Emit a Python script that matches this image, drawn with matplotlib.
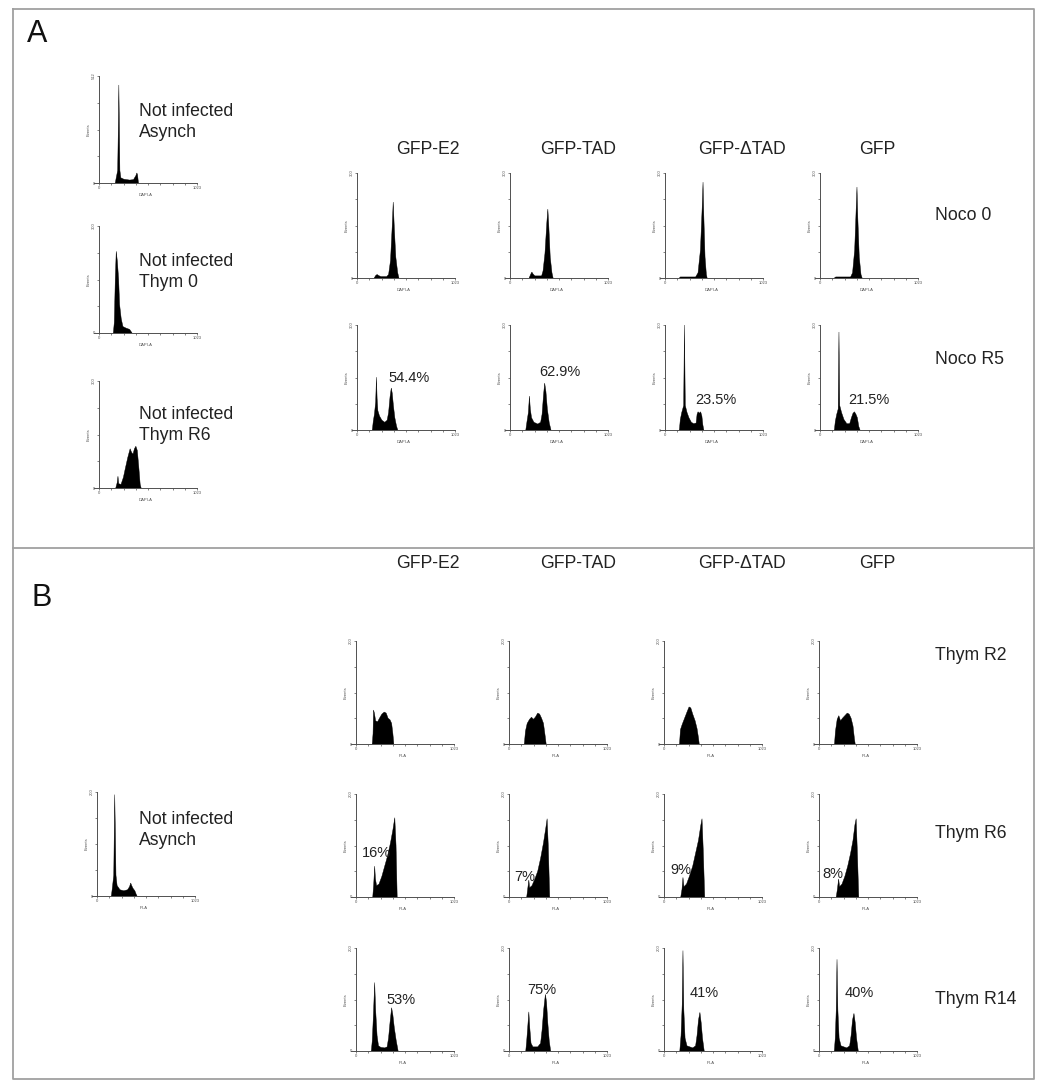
import matplotlib
matplotlib.use('Agg')
import matplotlib.pyplot as plt
from matplotlib.lines import Line2D

plt.rcParams['font.family'] = ['Liberation Sans', 'DejaVu Sans']

# --------------------------------------------------
# histogram outlines: (channel, events)
# --------------------------------------------------

# panel A, left column (not infected)
a_asynch = [(170, 0), (178, 20), (195, 60), (203, 300), (207, 469), (212, 300), (218, 60), (228, 25),
            (260, 18), (320, 14), (360, 16), (385, 35), (395, 48), (402, 40), (412, 0)]
a_thym0 = [(150, 0), (160, 30), (170, 150), (180, 229), (192, 200), (205, 150), (215, 80), (232, 40),
           (250, 18), (280, 14), (320, 10), (345, 0)]
a_thymR6 = [(175, 0), (190, 15), (198, 33), (206, 12), (230, 10), (255, 30), (275, 55), (300, 85),
            (325, 110), (340, 100), (355, 95), (370, 110), (385, 117), (400, 105), (415, 60), (430, 10), (440, 0)]

# panel A, Noco 0
n0_e2 = [(180, 0), (195, 7), (210, 10), (225, 7), (250, 4), (310, 4), (330, 10), (350, 50), (368, 150),
         (378, 217), (390, 140), (405, 60), (425, 15), (438, 0)]
n0_tad = [(200, 0), (215, 10), (228, 17), (242, 11), (260, 6), (330, 6), (345, 20), (365, 70), (385, 160),
          (395, 197), (405, 150), (420, 60), (438, 15), (450, 0)]
n0_dtad = [(150, 0), (160, 3), (320, 3), (345, 15), (370, 80), (388, 200), (397, 274), (405, 180),
           (418, 60), (432, 10), (440, 0)]
n0_gfp = [(150, 0), (165, 3), (320, 3), (340, 15), (362, 80), (378, 200), (386, 260), (395, 170),
          (410, 60), (428, 10), (440, 0)]

# panel A, Noco R5
r5_e2 = [(160, 0), (170, 25), (182, 45), (195, 80), (203, 151), (210, 90), (218, 55), (235, 40), (260, 28),
         (290, 22), (315, 28), (330, 50), (345, 95), (358, 120), (368, 105), (380, 70), (395, 35),
         (412, 12), (425, 0)]
r5_tad = [(165, 0), (178, 25), (192, 50), (203, 97), (212, 60), (225, 35), (250, 22), (290, 17), (320, 22),
          (335, 45), (350, 100), (362, 134), (375, 110), (390, 60), (410, 20), (428, 0)]
r5_dtad = [(150, 0), (160, 30), (175, 50), (195, 70), (203, 300), (212, 70), (230, 50), (250, 35), (275, 22),
           (300, 18), (325, 20), (335, 45), (345, 52), (360, 48), (372, 52), (385, 40), (395, 15), (405, 0)]
r5_gfp = [(150, 0), (160, 25), (175, 45), (190, 60), (198, 280), (206, 70), (225, 50), (250, 30), (280, 18),
          (310, 18), (328, 35), (345, 48), (360, 52), (375, 45), (390, 35), (405, 10), (418, 0)]

# panel B, left (not infected)
b_asynch = [(150, 0), (160, 15), (175, 40), (185, 195), (192, 120), (198, 40), (210, 20), (240, 12),
            (280, 10), (320, 12), (340, 18), (352, 25), (362, 20), (375, 15), (395, 10), (410, 3), (418, 0)]

# panel B, Thym R2
t2_e2 = [(170, 0), (178, 20), (183, 66), (192, 60), (205, 45), (225, 43), (245, 50), (270, 58), (295, 62),
         (315, 60), (335, 50), (355, 47), (372, 40), (385, 20), (395, 0)]
t2_tad = [(160, 0), (172, 25), (190, 40), (215, 48), (235, 52), (255, 48), (275, 52), (300, 60), (320, 58),
          (340, 50), (360, 40), (378, 15), (388, 0)]
t2_dtad = [(162, 0), (172, 28), (190, 38), (215, 50), (240, 62), (262, 72), (280, 70), (300, 58), (325, 45),
           (345, 30), (360, 12), (368, 0)]
t2_gfp = [(162, 0), (172, 25), (190, 48), (207, 55), (225, 45), (245, 50), (270, 55), (295, 60), (315, 58),
          (335, 50), (355, 35), (370, 10), (378, 0)]

# panel B, Thym R6
t6_e2 = [(175, 0), (185, 25), (195, 60), (203, 35), (215, 22), (240, 25), (270, 40), (300, 60), (330, 80),
         (360, 105), (385, 130), (405, 154), (418, 100), (430, 0)]
t6_tad = [(185, 0), (195, 15), (207, 33), (215, 18), (240, 22), (270, 35), (300, 50), (330, 75), (360, 105),
          (385, 135), (398, 152), (410, 100), (425, 0)]
t6_dtad = [(175, 0), (188, 15), (198, 38), (208, 20), (235, 25), (265, 40), (300, 60), (330, 85), (360, 110),
           (385, 140), (397, 152), (410, 90), (425, 0)]
t6_gfp = [(180, 0), (192, 15), (205, 35), (215, 20), (240, 25), (270, 40), (300, 60), (330, 85), (355, 110),
          (375, 140), (388, 152), (400, 90), (415, 0)]

# panel B, Thym R14
t14_e2 = [(160, 0), (170, 20), (182, 70), (195, 133), (205, 80), (220, 30), (235, 10), (260, 7), (300, 6),
          (325, 8), (340, 25), (355, 55), (372, 84), (385, 70), (400, 45), (420, 20), (440, 0)]
t14_tad = [(175, 0), (185, 20), (197, 50), (207, 76), (217, 45), (230, 15), (250, 8), (300, 8), (330, 15),
           (345, 40), (362, 80), (380, 110), (392, 95), (405, 55), (420, 20), (435, 0)]
t14_dtad = [(165, 0), (178, 30), (190, 90), (198, 195), (207, 80), (220, 25), (240, 10), (300, 6), (330, 10),
            (345, 30), (360, 60), (375, 75), (388, 55), (402, 25), (420, 0)]
t14_gfp = [(160, 0), (170, 25), (180, 80), (188, 178), (197, 80), (210, 25), (230, 10), (290, 6), (320, 10),
           (335, 30), (350, 60), (365, 73), (378, 55), (392, 25), (410, 0)]

constructs = ['GFP-E2', 'GFP-TAD', 'GFP-\u0394TAD', 'GFP']
rows_a = ['Noco 0', 'Noco R5']
rows_b = ['Thym R2', 'Thym R6', 'Thym R14']
pct_r5 = ['54.4%', '62.9%', '23.5%', '21.5%']
pct_t6 = ['16%', '7%', '9%', '8%']
pct_t14 = ['53%', '75%', '41%', '40%']

# --------------------------------------------------
# layout (pixels of the 1038x1080 picture)
# --------------------------------------------------
FW, FH = 1038, 1080
fig = plt.figure(figsize=(FW / 100, FH / 100), dpi=100)


def fx(px):
    return px / FW


def fy(py):
    return 1 - py / FH


AXC = '#505050'
TXC = '#222222'


def draw_hist(x0, base, pts, ymax, chan, h=105):
    # x0 = pixel of channel 0, base = pixel row of the x axis
    ext = 5
    ax = fig.add_axes([fx(x0 - ext), fy(base), (98 + ext) / FW, h / FH])
    ax.patch.set_alpha(0)
    ax.set_xlim(-1023 * ext / 98, 1023)
    ax.set_ylim(0, ymax)
    ax.fill([p[0] for p in pts], [p[1] for p in pts], color='black', lw=0.3, clip_on=False)
    for s in ['top', 'right']:
        ax.spines[s].set_visible(False)
    ax.spines['left'].set_position(('data', 0))
    for s in ['left', 'bottom']:
        ax.spines[s].set_color(AXC)
        ax.spines[s].set_linewidth(0.7)
    ax.set_xticks([0, 1023])
    ax.set_xticklabels(['0', '1023'])
    ax.set_xticks([1023 * k / 8 for k in range(1, 8)], minor=True)
    ax.set_yticks([0, ymax])
    ax.set_yticklabels(['0', str(ymax)])
    ax.get_yticklabels()[1].set_rotation(90)
    ax.get_yticklabels()[1].set_va('center')
    ax.set_yticks([ymax * k / 4 for k in range(1, 4)], minor=True)
    ax.tick_params(which='both', length=1.5, width=0.5, pad=1, labelsize=3, colors=AXC)
    ax.tick_params(which='minor', length=1.2)
    ax.set_xlabel(chan, fontsize=3, labelpad=1.5, color=AXC)
    ax.set_ylabel('Events', fontsize=3, labelpad=1, color=AXC)
    return ax


big = 12.7

# frame and divider
frame = dict(color='#a0a0a0', lw=1.3, transform=fig.transFigure)
fig.add_artist(Line2D([fx(13), fx(1034), fx(1034), fx(13), fx(13)],
                      [fy(9), fy(9), fy(1079), fy(1079), fy(9)], **frame))
fig.add_artist(Line2D([fx(13), fx(1034)], [fy(548), fy(548)], **frame))

fig.text(fx(27), fy(34), 'A', fontsize=22, va='center', ha='left', color='#111111')
fig.text(fx(32), fy(598), 'B', fontsize=22, va='center', ha='left', color='#111111')

# ---- panel A ----
left_a = [(a_asynch, 512, 183, 'Not infected\nAsynch', 122),
          (a_thym0, 300, 333, 'Not infected\nThym 0', 272),
          (a_thymR6, 300, 488, 'Not infected\nThym R6', 425)]
for pts, ymax, base, txt, ty in left_a:
    draw_hist(99, base, pts, ymax, 'DAPI-A', h=107)
    fig.text(fx(139), fy(ty), txt, fontsize=big, va='center', ha='left', linespacing=1.35, color=TXC)

col_x = [357, 510, 665, 820]
head_x = [428, 578, 742, 877]
for name, hx in zip(constructs, head_x):
    fig.text(fx(hx), fy(149), name, fontsize=big, ha='center', va='center', color=TXC)
    fig.text(fx(hx), fy(563), name, fontsize=big, ha='center', va='center', color=TXC)

grid_a = [[n0_e2, n0_tad, n0_dtad, n0_gfp], [r5_e2, r5_tad, r5_dtad, r5_gfp]]
base_a = [278, 430]
for r, row in enumerate(grid_a):
    for c, pts in enumerate(row):
        draw_hist(col_x[c], base_a[r], pts, 300, 'DAPI-A')
for lab, ty in zip(rows_a, [215, 360]):
    fig.text(fx(935), fy(ty), lab, fontsize=big, va='center', ha='left', color=TXC)

pct_pos_a = [(388, 378), (539, 372), (695, 400), (848, 400)]
for t, (px, py) in zip(pct_r5, pct_pos_a):
    fig.text(fx(px), fy(py), t, fontsize=10.5, va='center', ha='left', color=TXC)

# ---- panel B ----
draw_hist(97, 896, b_asynch, 200, 'PI-A', h=104)
fig.text(fx(139), fy(830), 'Not infected\nAsynch', fontsize=big, va='center', ha='left',
         linespacing=1.35, color=TXC)

grid_b = [[t2_e2, t2_tad, t2_dtad, t2_gfp],
          [t6_e2, t6_tad, t6_dtad, t6_gfp],
          [t14_e2, t14_tad, t14_dtad, t14_gfp]]
base_b = [744, 897, 1051]
for r, row in enumerate(grid_b):
    for c, pts in enumerate(row):
        draw_hist(col_x[c] - 1, base_b[r], pts, 200, 'PI-A', h=103)
for lab, ty in zip(rows_b, [655, 833, 1000]):
    fig.text(fx(935), fy(ty), lab, fontsize=big, va='center', ha='left', color=TXC)

pct_pos_t6 = [(362, 853), (514, 877), (670, 870), (822, 874)]
pct_pos_t14 = [(386, 1000), (527, 990), (690, 993), (845, 993)]
for labels, poss in [(pct_t6, pct_pos_t6), (pct_t14, pct_pos_t14)]:
    for t, (px, py) in zip(labels, poss):
        fig.text(fx(px), fy(py), t, fontsize=10.5, va='center', ha='left', color=TXC)

fig.savefig('out.png', dpi=100, facecolor='white')
